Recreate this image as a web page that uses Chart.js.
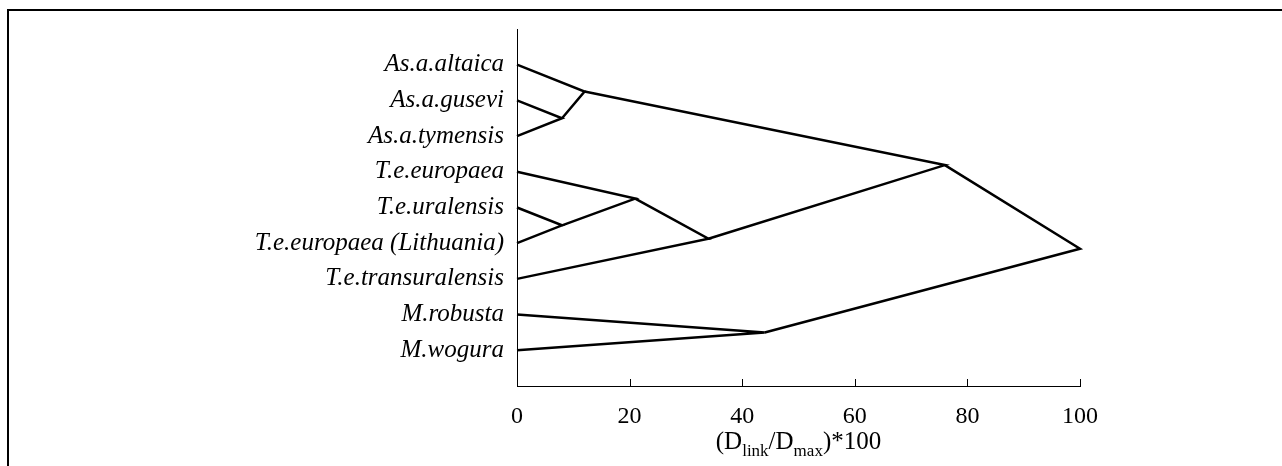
<!DOCTYPE html>
<html>
<head>
<meta charset="utf-8">
<script src="https://cdn.jsdelivr.net/npm/chart.js@4.4.1/dist/chart.umd.min.js"></script>
<style>
html,body{margin:0;padding:0;background:#fff;overflow:hidden}
</style>
</head>
<body>
<canvas id="myChart" width="1282" height="466"></canvas>
<script>
// leaves, top to bottom
const leafNames = ['As.a.altaica', 'As.a.gusevi', 'As.a.tymensis', 'T.e.europaea', 'T.e.uralensis',
    'T.e.europaea (Lithuania)', 'T.e.transuralensis', 'M.robusta', 'M.wogura'];
const leafPos = [1, 2, 3, 4, 5, 6, 7, 8, 9];

// merges: node ids 0-8 are leaves, merge i becomes node 9+i
const mergeA = [1, 4, 0, 3, 12, 7, 11, 15];
const mergeB = [2, 5, 9, 10, 6, 8, 13, 14];
const mergeDist = [8, 8, 12, 21, 34, 44, 76, 100];

const xTicks = [0, 20, 40, 60, 80, 100];

const serif = 'Liberation Serif';

// node coordinates from the tree
let nodes = leafPos.map(p => ({x: 0, y: p}));
for (let i = 0; i < mergeDist.length; i++) {
    nodes.push({x: mergeDist[i], y: (nodes[mergeA[i]].y + nodes[mergeB[i]].y) / 2});
}

let datasets = [];
for (let i = 0; i < mergeDist.length; i++) {
    datasets.push({
        data: [nodes[mergeA[i]], nodes[9 + i], nodes[mergeB[i]]],
        showLine: true,
        borderColor: '#000',
        borderWidth: 2.5,
        pointRadius: 0,
        tension: 0,
        clip: false
    });
}

const frame = {
    id: 'frame',
    beforeDraw(chart) {
        const c = chart.ctx;
        c.save();
        c.strokeStyle = '#000';
        c.lineWidth = 2;
        c.beginPath();
        c.moveTo(8, 466);
        c.lineTo(8, 10);
        c.lineTo(1282, 10);
        c.stroke();
        c.restore();
    }
};

const innerTicks = {
    id: 'innerTicks',
    afterDraw(chart) {
        const c = chart.ctx;
        const xs = chart.scales.x;
        c.save();
        c.strokeStyle = '#000';
        c.lineWidth = 1;
        xTicks.forEach(v => {
            const px = Math.round(xs.getPixelForValue(v)) + 0.5;
            c.beginPath();
            c.moveTo(px, xs.top);
            c.lineTo(px, xs.top - 7);
            c.stroke();
        });
        // axis title with subscripts
        const parts = [['(D', 25, 0], ['link', 17, 7], ['/D', 25, 0], ['max', 17, 7], [')*100', 25, 0]];
        let total = 0;
        parts.forEach(p => {
            c.font = p[1] + 'px "' + serif + '"';
            total += c.measureText(p[0]).width;
        });
        let x = (xs.left + xs.right) / 2 - total / 2;
        const base = 449;
        c.fillStyle = '#000';
        c.textBaseline = 'alphabetic';
        c.textAlign = 'left';
        parts.forEach(p => {
            c.font = p[1] + 'px "' + serif + '"';
            c.fillText(p[0], x, base + p[2]);
            x += c.measureText(p[0]).width;
        });
        c.restore();
    }
};

var ctx = document.getElementById('myChart').getContext('2d');
var chart = new Chart(ctx, {
    type: 'scatter',
    data: {datasets: datasets},
    options: {
        responsive: false,
        animation: false,
        layout: {padding: {left: 0, top: 29, right: 202, bottom: 0}},
        plugins: {legend: {display: false}, tooltip: {enabled: false}},
        scales: {
            x: {
                type: 'linear',
                min: 0,
                max: 100,
                afterBuildTicks: s => { s.ticks = xTicks.map(v => ({value: v})); },
                afterFit: s => { s.height = 80; },
                grid: {display: false},
                border: {display: true, color: '#000', width: 1},
                ticks: {color: '#000', padding: 8, font: {family: serif, size: 24}}
            },
            y: {
                type: 'linear',
                min: 0,
                max: 10,
                reverse: true,
                afterBuildTicks: s => { s.ticks = leafPos.map(v => ({value: v})); },
                afterFit: s => { s.width = 517; },
                grid: {display: false},
                border: {display: true, color: '#000', width: 1},
                ticks: {
                    color: '#000',
                    padding: 5,
                    font: {family: serif, size: 25, style: 'italic'},
                    callback: v => leafNames[leafPos.indexOf(v)]
                }
            }
        }
    },
    plugins: [frame, innerTicks]
});
</script>
</body>
</html>
